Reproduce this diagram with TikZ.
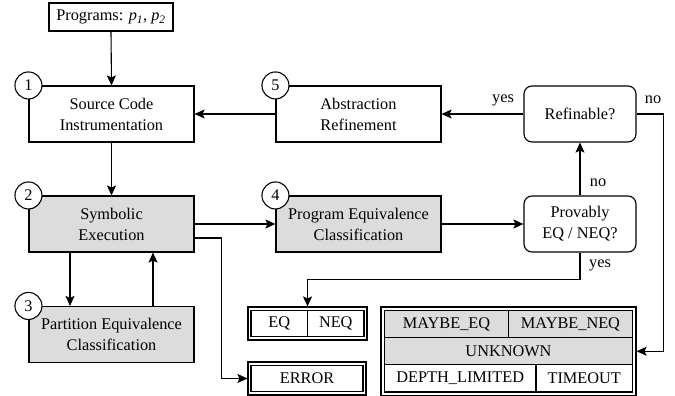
\documentclass[tikz,border=0pt]{standalone}
\usepackage{fontspec}
\setmainfont{Liberation Serif}
\usetikzlibrary{arrows.meta}
\definecolor{grayfill}{HTML}{DCDCDC}
\newcommand\mydiagfont{\fontsize{16.3}{21}\selectfont}
\begin{document}
\begin{tikzpicture}[x=1pt,y=-1pt, line width=1.1pt,
  >={Stealth[length=10pt,width=9pt,inset=2pt]},
  every node/.style={font=\mydiagfont},
  box/.style={draw, minimum width=165pt, minimum height=56pt, align=center, inner sep=0pt},
  shaded/.style={fill=grayfill},
  decision/.style={draw, rounded corners=8pt, minimum width=112pt, minimum height=56pt, align=center, inner sep=0pt},
  num/.style={draw, circle, fill=white, minimum size=27pt, inner sep=0pt},
  outbox/.style={draw, inner sep=0pt},
  cell/.style={inner sep=0pt},
  lbl/.style={inner sep=0pt}]
\useasboundingbox (0,0) rectangle (675,396);

% main boxes
\node[draw, minimum width=124pt, minimum height=28pt, inner sep=0pt] (prog) at (111,17) {Programs: \textit{p}\textsubscript{\textit{1}}, \textit{p}\textsubscript{\textit{2}}};
\node[box] (b1) at (111.5,114) {Source Code\\Instrumentation};
\node[box] (b5) at (358.5,114) {Abstraction\\Refinement};
\node[decision] (ref) at (580,114) {Refinable?};
\node[box, shaded] (b2) at (111.5,224) {Symbolic\\Execution};
\node[box, shaded] (b4) at (358.5,224) {Program Equivalence\\Classification};
\node[decision] (prov) at (580,224) {Provably\\EQ / NEQ?};
\node[box, shaded] (b3) at (111.5,334.5) {Partition Equivalence\\Classification};

% number circles
\node[num] (n1) at (b1.north west) {1};
\node[num] (n5) at (b5.north west) {5};
\node[num] (n2) at (b2.north west) {2};
\node[num] (n4) at (b4.north west) {4};
\node[num] (n3) at (b3.north west) {3};

% EQ / NEQ box
\node[outbox, minimum width=119pt, minimum height=33pt] (eqb) at (307.5,323.5) {};
\draw (251,310.5) rectangle (364,336.5);
\draw (307.5,310.5) -- (307.5,336.5);
\node[cell] (eqc) at (279.25,323.5) {EQ};
\node[cell] (neqc) at (335.75,323.5) {NEQ};

% ERROR box
\node[outbox, minimum width=118pt, minimum height=33pt] (errb) at (307,378.5) {};
\draw (251,365.5) rectangle (363,391.5);
\node[cell] (errc) at (307,378.5) {ERROR};

% result box
\node[outbox, minimum width=255pt, minimum height=88.5pt] (res) at (508.5,351.25) {};
\fill[grayfill] (384.5,310.5) rectangle (632.5,364.5);
\draw (384.5,310.5) rectangle (632.5,392);
\draw (384.5,337.5) -- (632.5,337.5);
\draw (384.5,364.5) -- (632.5,364.5);
\draw (508.5,310.5) -- (508.5,337.5);
\draw (536,364.5) -- (536,392);
\node[cell] (c1) at (446.5,324) {MAYBE\_EQ};
\node[cell] (c2) at (570.5,324) {MAYBE\_NEQ};
\node[cell] (c3) at (508.5,351) {UNKNOWN};
\node[cell] (c4) at (460.25,378.25) {DEPTH\_LIMITED};
\node[cell] (c5) at (584.25,378.25) {TIMEOUT};

% connectors
\draw[->] (prog.south) -- (b1.north);
\draw[->] (b1.south) -- (b2.north);
\draw[->] (b5.west) -- (b1.east);
\draw[->] (ref.west) -- (b5.east);
\draw[->] (prov.north) -- (ref.south);
\draw[->] (b4.east) -- (prov.west);
\draw[->] (b2.east) -- (b4.west);
\draw[->] ([xshift=-41.5pt]b2.south) -- ([xshift=-41.5pt]b3.north);
\draw[->] ([xshift=41.5pt]b3.north) -- ([xshift=41.5pt]b2.south);
\draw[->] ([yshift=-14pt]b2.east) -- ++(27,0) |- (errb.west);
\draw[->] (prov.south) -- ++(0,27) -| (eqb.north);
\draw[->] (ref.east) -- ++(27,0) |- (res.east);

% labels
\node[lbl] (lyes1) at (503,100) {yes};
\node[lbl] (lno1) at (653,100) {no};
\node[lbl] (lno2) at (598,183) {no};
\node[lbl] (lyes2) at (600,265) {yes};
\end{tikzpicture}
\end{document}
